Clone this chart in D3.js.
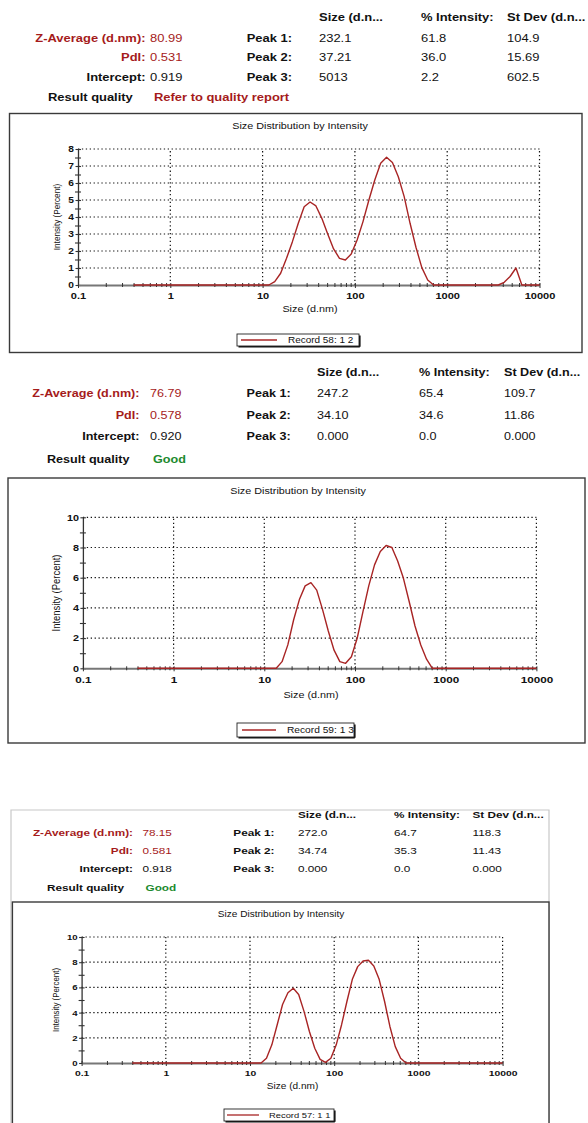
<!DOCTYPE html>
<html>
<head>
<meta charset="utf-8">
<script src="https://cdn.jsdelivr.net/npm/d3@7"></script>
<style>
  html, body { margin: 0; padding: 0; background: #fff; }
  svg { display: block; }
</style>
</head>
<body>
<svg id="page" width="588" height="1123"></svg>
<script>
// Size classes (d.nm) of the intensity distribution
const sizeBins = [0.4, 0.4632, 0.5365, 0.6213, 0.7195, 0.8332, 0.9649, 1.117, 1.294, 1.499,
  1.736, 2.01, 2.328, 2.696, 3.122, 3.615, 4.187, 4.849, 5.615, 6.503,
  7.531, 8.721, 10.1, 11.7, 13.54, 15.69, 18.17, 21.04, 24.36, 28.21,
  32.67, 37.84, 43.82, 50.75, 58.77, 68.06, 78.82, 91.28, 105.7, 122.4,
  141.8, 164.2, 190.1, 220.2, 255.0, 295.3, 342.0, 396.1, 458.7, 531.2,
  615.1, 712.4, 825.0, 955.4, 1106, 1281, 1484, 1718, 1990, 2305,
  2669, 3091, 3580, 4145, 4801, 5560, 6439, 7456, 8635, 10000];

// Intensity (percent) per size class
const record58 = [0, 0, 0, 0, 0, 0, 0, 0, 0, 0,
  0, 0, 0, 0, 0, 0, 0, 0, 0, 0,
  0, 0, 0, 0, 0.2, 0.69, 1.57, 2.55, 3.63, 4.6,
  4.88, 4.65, 3.92, 3.0, 2.12, 1.57, 1.47, 1.82, 2.65, 3.73,
  5.0, 6.18, 7.16, 7.51, 7.2, 6.37, 5.2, 3.63, 2.22, 1.02,
  0.29, 0, 0, 0, 0, 0, 0, 0, 0, 0,
  0, 0, 0, 0.16, 0.5, 1.0, 0, 0, 0, 0];

const record59 = [0, 0, 0, 0, 0, 0, 0, 0, 0, 0,
  0, 0, 0, 0, 0, 0, 0, 0, 0, 0,
  0, 0, 0, 0, 0, 0.44, 1.55, 3.2, 4.55, 5.46,
  5.67, 5.18, 3.9, 2.47, 1.2, 0.44, 0.33, 0.77, 1.99, 3.75,
  5.46, 6.85, 7.73, 8.13, 8.0, 7.1, 5.96, 4.41, 2.8, 1.54,
  0.6, 0, 0, 0, 0, 0, 0, 0, 0, 0,
  0, 0, 0, 0, 0, 0, 0, 0, 0, 0];

const record57 = [0, 0, 0, 0, 0, 0, 0, 0, 0, 0,
  0, 0, 0, 0, 0, 0, 0, 0, 0, 0,
  0, 0, 0, 0, 0, 0.38, 1.44, 3.04, 4.64, 5.57,
  5.93, 5.44, 4.1, 2.5, 1.17, 0.29, 0.05, 0.38, 1.44, 3.04,
  4.9, 6.64, 7.65, 8.1, 8.15, 7.7, 6.64, 4.9, 2.9, 1.3,
  0.38, 0, 0, 0, 0, 0, 0, 0, 0, 0,
  0, 0, 0, 0, 0, 0, 0, 0, 0, 0];

const xTickValues = [0.1, 1, 10, 100, 1000, 10000];
const yTicks58 = [0, 1, 2, 3, 4, 5, 6, 7, 8];
const yMinor58 = [0.5, 1.5, 2.5, 3.5, 4.5, 5.5, 6.5, 7.5];
const yTicks10 = [0, 2, 4, 6, 8, 10];
const yMinor10 = [1, 3, 5, 7, 9];

// Result tables
const peakColumns = ["Size (d.n...", "% Intensity:", "St Dev (d.n..."];
const peakLabels = ["Peak 1:", "Peak 2:", "Peak 3:"];
const peaks58 = [["232.1", "61.8", "104.9"], ["37.21", "36.0", "15.69"], ["5013", "2.2", "602.5"]];
const peaks59 = [["247.2", "65.4", "109.7"], ["34.10", "34.6", "11.86"], ["0.000", "0.0", "0.000"]];
const peaks57 = [["272.0", "64.7", "118.3"], ["34.74", "35.3", "11.43"], ["0.000", "0.0", "0.000"]];
const zAverages = ["80.99", "76.79", "78.15"];
const pdiValues = ["0.531", "0.578", "0.581"];
const intercepts = ["0.919", "0.920", "0.918"];
const qualities = ["Refer to quality report", "Good", "Good"];
const recordNames = ["Record 58: 1 2", "Record 59: 1 3", "Record 57: 1 1"];

const RED = "#a51b1b";
const GREEN = "#1c8a2e";
const CURVE = "#a82424";
const FONT = "'Liberation Sans', Arial, sans-serif";

const svg = d3.select("#page");

function label(g, x, y, text, o = {}) {
  return g.append("text")
    .attr("transform", `translate(${x},${y}) scale(${o.sx ?? 1.2},1)` + (o.rotate ? ` rotate(${o.rotate})` : ""))
    .attr("text-anchor", o.anchor || "start")
    .attr("dominant-baseline", "central")
    .style("font-family", FONT)
    .style("font-size", o.size + "px")
    .style("font-weight", o.weight || "normal")
    .attr("fill", o.fill || "#111")
    .text(text);
}

// stretch axis tick labels horizontally while keeping their anchor point
function stretchTicks(sel, sx, size) {
  sel.selectAll(".tick text").each(function () {
    const t = d3.select(this);
    const x = +t.attr("x") || 0, y = +t.attr("y") || 0;
    t.attr("x", null).attr("y", null)
      .attr("transform", `translate(${x},${y}) scale(${sx},1)`)
      .style("font-family", FONT).style("font-size", size + "px")
      .style("font-weight", "bold").attr("fill", "#111");
  });
}

function drawHeader(h, i, peaks) {
  const g = svg.append("g");
  const s = h.font;
  peakColumns.forEach((c, j) => label(g, h.cols[j], h.rows[0], c, { size: s, weight: "bold" }));
  label(g, h.labelRight, h.rows[1], "Z-Average (d.nm):", { size: s, weight: "bold", anchor: "end", fill: RED });
  label(g, h.valueX, h.rows[1], zAverages[i], { size: s, fill: RED });
  label(g, h.labelRight, h.rows[2], "PdI:", { size: s, weight: "bold", anchor: "end", fill: RED });
  label(g, h.valueX, h.rows[2], pdiValues[i], { size: s, fill: RED });
  label(g, h.labelRight, h.rows[3], "Intercept:", { size: s, weight: "bold", anchor: "end" });
  label(g, h.valueX, h.rows[3], intercepts[i], { size: s });
  label(g, h.rqX, h.rows[4], "Result quality", { size: s, weight: "bold" });
  label(g, h.rqValX, h.rows[4], qualities[i], { size: s, weight: "bold", fill: qualities[i] === "Good" ? GREEN : RED });
  peakLabels.forEach((p, k) => {
    label(g, h.peakRight, h.rows[k + 1], p, { size: s, weight: "bold", anchor: "end" });
    peaks[k].forEach((v, j) => label(g, h.cols[j], h.rows[k + 1], v, { size: s }));
  });
}

function drawChart(c, values, yTicks, yMinor, yMax, name) {
  const g = svg.append("g");
  const f = c.frame;
  g.append("rect").attr("x", f.x).attr("y", f.y).attr("width", f.w).attr("height", f.h)
    .attr("fill", "#fff").attr("stroke", "#3a3a3a").attr("stroke-width", 1.4);

  const x = d3.scaleLog().domain([0.1, 10000]).range([c.x0, c.x1]);
  const y = d3.scaleLinear().domain([0, yMax]).range([c.y0, c.y1]);

  const dots = "1.3,2.6";
  g.append("g").selectAll("line").data(yTicks.filter(v => v > 0)).join("line")
    .attr("x1", c.x0).attr("x2", c.x1).attr("y1", d => y(d)).attr("y2", d => y(d))
    .attr("stroke", "#111").attr("stroke-width", 1.2).attr("stroke-dasharray", dots);
  g.append("g").selectAll("line").data(xTickValues.filter(v => v > 0.1)).join("line")
    .attr("x1", d => x(d)).attr("x2", d => x(d)).attr("y1", c.y0).attr("y2", c.y1)
    .attr("stroke", "#111").attr("stroke-width", 1.2).attr("stroke-dasharray", dots);

  // y axis, major and minor ticks
  const ya = g.append("g").attr("transform", `translate(${c.x0},0)`)
    .call(d3.axisLeft(y).tickValues(yTicks).tickFormat(d3.format("d")).tickSize(2.5).tickPadding(1.5).tickSizeOuter(0));
  ya.select(".domain").attr("stroke", "#333").attr("stroke-width", 1.3);
  ya.selectAll(".tick line").attr("x1", 3).attr("stroke", "#333").attr("stroke-width", 1.1);
  stretchTicks(ya, 1.2, c.tickFont);
  const ym = g.append("g").attr("transform", `translate(${c.x0},0)`)
    .call(d3.axisLeft(y).tickValues(yMinor).tickFormat("").tickSize(3).tickSizeOuter(0));
  ym.select(".domain").remove();
  ym.selectAll(".tick line").attr("x1", 3).attr("stroke", "#333").attr("stroke-width", 1.1);

  // x axis, decades and log minor ticks
  const xa = g.append("g").attr("transform", `translate(0,${c.y0})`)
    .call(d3.axisBottom(x).tickValues(xTickValues).tickFormat(d => String(d)).tickSize(3).tickPadding(c.xPad).tickSizeOuter(0));
  xa.select(".domain").attr("stroke", "#777").attr("stroke-width", 2);
  xa.selectAll(".tick line").attr("y1", -2).attr("stroke", "#333");
  stretchTicks(xa, 1.3, c.tickFont);
  const minors = x.ticks().filter(v => Math.abs(Math.log10(v) - Math.round(Math.log10(v))) > 1e-6);
  const xm = g.append("g").attr("transform", `translate(0,${c.y0})`)
    .call(d3.axisBottom(x).tickValues(minors).tickFormat("").tickSize(2).tickSizeOuter(0));
  xm.select(".domain").remove();
  xm.selectAll(".tick line").attr("y1", -2).attr("stroke", "#333");

  // distribution curve
  const line = d3.line().x(d => x(d[0])).y(d => y(d[1]));
  g.append("path").datum(sizeBins.map((s, i) => [s, values[i]]))
    .attr("d", line).attr("fill", "none").attr("stroke", CURVE).attr("stroke-width", 1.4)
    .attr("stroke-linejoin", "round");

  // titles
  label(g, c.title.x, c.title.y, "Size Distribution by Intensity", { size: c.title.size, anchor: "middle" });
  label(g, c.xlabel.x, c.xlabel.y, "Size (d.nm)", { size: c.xlabel.size, anchor: "middle" });
  label(g, c.ylabel.x, c.ylabel.y, "Intensity (Percent)", { size: c.ylabel.size, anchor: "middle", rotate: -90 });

  // legend
  const L = c.legend;
  g.append("line").attr("x1", L.x + L.w + 0.8).attr("x2", L.x + L.w + 0.8).attr("y1", L.y + 1.5).attr("y2", L.y + L.h + 0.8)
    .attr("stroke", "#111").attr("stroke-width", 1.6);
  g.append("line").attr("x1", L.x + 1.5).attr("x2", L.x + L.w + 0.8).attr("y1", L.y + L.h + 0.8).attr("y2", L.y + L.h + 0.8)
    .attr("stroke", "#111").attr("stroke-width", 1.6);
  g.append("rect").attr("x", L.x).attr("y", L.y).attr("width", L.w).attr("height", L.h)
    .attr("fill", "#fff").attr("stroke", "#222").attr("stroke-width", 0.9);
  g.append("line").attr("x1", L.l0).attr("x2", L.l1).attr("y1", L.y + L.h / 2).attr("y2", L.y + L.h / 2)
    .attr("stroke", CURVE).attr("stroke-width", 1.3);
  label(g, L.tx, L.y + L.h / 2, name, { size: L.size });
}

// ---- panel 1: record 58
drawHeader({ rows: [17, 38, 57, 77, 97], font: 10.8, labelRight: 145.5, valueX: 150, peakRight: 292,
  cols: [319, 421, 507], rqX: 48, rqValX: 154 }, 0, peaks58);
drawChart({
  frame: { x: 9.5, y: 113.5, w: 572.5, h: 239 },
  x0: 78, x1: 539.5, y0: 285, y1: 149, tickFont: 8.5, xPad: 4.8,
  title: { x: 300, y: 126, size: 9 },
  xlabel: { x: 310, y: 309, size: 9 },
  ylabel: { x: 57, y: 217, size: 8.2 },
  legend: { x: 237, y: 334, w: 122, h: 12, l0: 241, l1: 277, tx: 288, size: 8.3 }
}, record58, yTicks58, yMinor58, 8, recordNames[0]);

// ---- panel 2: record 59
drawHeader({ rows: [372, 393, 415, 436, 459], font: 10.5, labelRight: 139.5, valueX: 150, peakRight: 290.6,
  cols: [317, 419, 504], rqX: 47, rqValX: 153 }, 1, peaks59);
drawChart({
  frame: { x: 8, y: 478, w: 577, h: 265 },
  x0: 82.9, x1: 536.4, y0: 668.3, y1: 517.3, tickFont: 9, xPad: 5.5,
  title: { x: 298, y: 491, size: 9 },
  xlabel: { x: 311, y: 695, size: 9 },
  ylabel: { x: 56, y: 593, size: 9.5 },
  legend: { x: 237, y: 723, w: 117, h: 14, l0: 242, l1: 276, tx: 287, size: 8.5 }
}, record59, yTicks10, yMinor10, 10, recordNames[1]);

// ---- panel 3: record 57 (report box continues below the page edge)
svg.append("path").attr("d", "M11,1130 V810 H549 V1130")
  .attr("fill", "none").attr("stroke", "#c8c8c8").attr("stroke-width", 1.2);
drawHeader({ rows: [814, 832, 850, 868, 887], font: 9.8, labelRight: 133, valueX: 142.5, peakRight: 274.5,
  cols: [298, 394, 472.5], rqX: 47, rqValX: 145.5 }, 2, peaks57);
drawChart({
  frame: { x: 12.4, y: 902, w: 536.6, h: 240 },
  x0: 81.6, x1: 502.6, y0: 1063, y1: 937, tickFont: 8, xPad: 4.1,
  title: { x: 281, y: 914, size: 8.4 },
  xlabel: { x: 292.5, y: 1086, size: 8.4 },
  ylabel: { x: 55.5, y: 1000, size: 7.9 },
  legend: { x: 224, y: 1109, w: 110, h: 12, l0: 227, l1: 259, tx: 269, size: 7.8 }
}, record57, yTicks10, yMinor10, 10, recordNames[2]);
</script>
</body>
</html>
